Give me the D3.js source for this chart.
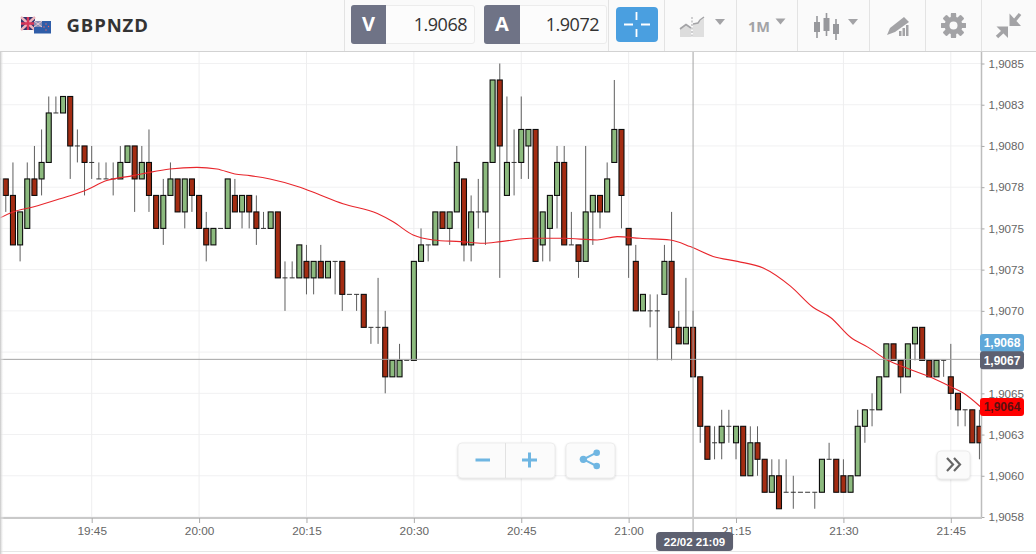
<!DOCTYPE html>
<html><head><meta charset="utf-8">
<script src="https://cdn.jsdelivr.net/npm/d3@7/dist/d3.min.js"></script>
<style>html,body{margin:0;padding:0;background:#fff;overflow:hidden}svg{display:block;font-family:"Liberation Sans",Arial,sans-serif}</style>
</head><body><svg id="c" width="1036" height="554"></svg>
<script>
const symbol = "GBPNZD";
const bidLabel = "V", askLabel = "A", bidValue = "1.9068", askValue = "1.9072", timeframe = "1M";
const crossTimeLabel = "22/02 21:09";
const firstCandle = Date.UTC(2021,1,22,19,32);
const opens = [1.9078,1.9078,1.9077,1.9074,1.9075,1.9078,1.9078,1.9079,1.9082,1.9082,1.9083,1.9080,1.9080,
1.9079,1.9078,1.9078,1.9078,1.9078,1.9079,1.9080,1.9078,1.9079,1.9077,
1.9075,1.9077,1.9078,1.9076,1.9078,1.9077,1.9075,1.9074,1.9075,1.9075,
1.9077,1.9076,1.9077,1.9076,1.9075,1.9075,1.9076,1.9072,1.9072,1.9072,
1.9073,1.9072,1.9073,1.9072,1.9073,1.9073,1.9071,1.9071,1.9071,1.9069,
1.9069,1.9069,1.9066,1.9066,1.9067,1.9067,1.9073,1.9074,1.9074,1.9076,
1.9075,1.9076,1.9078,1.9074,1.9076,1.9076,1.9079,1.9084,1.9077,1.9079,
1.9079,1.9080,1.9081,1.9074,1.9075,1.9077,1.9079,1.9074,1.9074,1.9073,
1.9076,1.9077,1.9076,1.9079,1.9081,1.9075,1.9073,1.9070,1.9070,1.9070,
1.9071,1.9073,1.9069,1.9068,1.9069,1.9066,1.9063,1.9062,1.9062,1.9063,
1.9062,1.9063,1.9060,1.9062,1.9061,1.9059,1.9060,1.9059,1.9059,1.9059,
1.9059,1.9059,1.9059,1.9061,1.9061,1.9060,1.9059,1.9060,1.9063,1.9064,
1.9064,1.9066,1.9068,1.9067,1.9066,1.9068,1.9069,1.9067,1.9066,1.9067,
1.9066,1.9065,1.9064,1.9064,1.9063];
const highs = [1.9078,1.9078,1.9079,1.9076,1.9079,1.9080,1.9081,1.9083,1.9083,1.9083,1.9083,1.9081,1.9080,
1.9080,1.9079,1.9079,1.9079,1.9080,1.9080,1.9080,1.9080,1.9081,1.9077,
1.9078,1.9079,1.9078,1.9078,1.9078,1.9077,1.9076,1.9075,1.9075,1.9078,
1.9078,1.9077,1.9077,1.9077,1.9076,1.9076,1.9076,1.9073,1.9073,1.9074,
1.9074,1.9073,1.9074,1.9073,1.9073,1.9073,1.9071,1.9071,1.9071,1.9069,
1.9072,1.9070,1.9067,1.9068,1.9067,1.9073,1.9075,1.9074,1.9076,1.9076,
1.9076,1.9080,1.9078,1.9077,1.9078,1.9079,1.9084,1.9085,1.9083,1.9081,
1.9083,1.9081,1.9081,1.9076,1.9077,1.9080,1.9080,1.9076,1.9074,1.9080,
1.9077,1.9077,1.9079,1.9084,1.9081,1.9075,1.9074,1.9071,1.9071,1.9071,
1.9074,1.9076,1.9070,1.9072,1.9070,1.9066,1.9063,1.9063,1.9064,1.9064,
1.9063,1.9063,1.9063,1.9063,1.9061,1.9061,1.9061,1.9061,1.9060,1.9059,
1.9059,1.9059,1.9061,1.9062,1.9061,1.9061,1.9060,1.9064,1.9064,1.9065,
1.9066,1.9068,1.9068,1.9067,1.9068,1.9069,1.9069,1.9067,1.9067,1.9067,
1.9068,1.9065,1.9064,1.9064,1.9064];
const lows = [1.9078,1.9076,1.9074,1.9073,1.9075,1.9077,1.9077,1.9079,1.9082,1.9082,1.9078,1.9079,1.9077,
1.9078,1.9078,1.9078,1.9077,1.9078,1.9079,1.9076,1.9078,1.9076,1.9075,
1.9074,1.9077,1.9076,1.9075,1.9076,1.9075,1.9073,1.9074,1.9075,1.9075,
1.9076,1.9075,1.9075,1.9074,1.9075,1.9075,1.9072,1.9070,1.9072,1.9072,
1.9071,1.9071,1.9072,1.9072,1.9071,1.9070,1.9071,1.9070,1.9069,1.9068,
1.9068,1.9065,1.9066,1.9066,1.9067,1.9067,1.9073,1.9073,1.9074,1.9075,
1.9074,1.9076,1.9073,1.9073,1.9075,1.9074,1.9079,1.9072,1.9077,1.9077,
1.9078,1.9078,1.9073,1.9073,1.9073,1.9075,1.9074,1.9074,1.9072,1.9073,
1.9074,1.9075,1.9076,1.9079,1.9075,1.9072,1.9070,1.9070,1.9069,1.9067,
1.9071,1.9067,1.9068,1.9068,1.9066,1.9062,1.9061,1.9061,1.9061,1.9062,
1.9061,1.9060,1.9060,1.9060,1.9059,1.9059,1.9058,1.9059,1.9058,1.9059,
1.9059,1.9058,1.9059,1.9061,1.9059,1.9059,1.9059,1.9060,1.9062,1.9063,
1.9064,1.9066,1.9067,1.9065,1.9066,1.9067,1.9067,1.9066,1.9066,1.9066,
1.9064,1.9063,1.9063,1.9062,1.9061];
const closes = [1.9078,1.9077,1.9074,1.9076,1.9078,1.9077,1.9079,1.9082,1.9082,1.9083,1.9080,1.9080,1.9079,
1.9079,1.9078,1.9078,1.9078,1.9079,1.9080,1.9078,1.9079,1.9077,1.9075,
1.9077,1.9078,1.9076,1.9078,1.9077,1.9075,1.9074,1.9075,1.9075,1.9078,
1.9076,1.9077,1.9076,1.9075,1.9075,1.9076,1.9072,1.9072,1.9072,1.9074,
1.9072,1.9073,1.9072,1.9073,1.9073,1.9071,1.9071,1.9071,1.9069,1.9069,
1.9069,1.9066,1.9067,1.9067,1.9067,1.9073,1.9074,1.9074,1.9076,1.9075,
1.9076,1.9079,1.9074,1.9076,1.9076,1.9079,1.9084,1.9080,1.9079,1.9079,
1.9081,1.9081,1.9073,1.9076,1.9077,1.9079,1.9074,1.9074,1.9073,1.9076,
1.9077,1.9076,1.9078,1.9081,1.9077,1.9074,1.9070,1.9071,1.9070,1.9070,
1.9073,1.9069,1.9068,1.9069,1.9066,1.9063,1.9061,1.9062,1.9063,1.9063,
1.9063,1.9060,1.9062,1.9061,1.9059,1.9060,1.9058,1.9059,1.9059,1.9059,
1.9059,1.9059,1.9061,1.9061,1.9059,1.9059,1.9060,1.9063,1.9064,1.9064,
1.9066,1.9068,1.9067,1.9066,1.9068,1.9069,1.9067,1.9066,1.9067,1.9067,
1.9065,1.9064,1.9064,1.9062,1.9062];
// moving average: minutes after 19:45, and value
const maMinutes = [-13,-11,-8.2,-4.4,-0.9,2.1,5.8,8.1,10.9,14.7,17.5,20,22.1,24.9,29.1,31.5,35.1,39.9,42.1,44.9,47.7,51.5,54.7,57.1,61.3,65.9,70.6,73.4,76.6,80.8,83.6,86.8,90.2,93.8,97.6,100.8,103.2,106,108.4,111.2,114,117.6,120,121.8,124.1];
const maValues = [1.90756,1.90760,1.90763,1.90768,1.90773,1.90779,1.90782,1.90784,1.90786,1.90787,1.90786,1.90783,1.90782,1.90780,1.90775,1.90771,1.90765,1.90759,1.90754,1.90746,1.90743,1.90742,1.90741,1.90742,1.90744,1.90744,1.90743,1.90745,1.90744,1.90743,1.90739,1.90733,1.90730,1.90726,1.90715,1.90702,1.90696,1.90684,1.90678,1.90670,1.90665,1.90659,1.90654,1.90650,1.90642];
const yTickValues = [1.9085,1.90825,1.908,1.90775,1.9075,1.90725,1.907,1.90675,1.9065,1.90625,1.906,1.90575];
const yTickLabels = ["1,9085","1,9083","1,9080","1,9078","1,9075","1,9073","1,9070","","1,9065","1,9063","1,9060","1,9058"];
const xTickTimes = ["19:45","20:00","20:15","20:30","20:45","21:00","21:15","21:30","21:45"];
const crossPrice = 1.906706, crossMinute = 84;
const priceTags = [
 {label:"1,9068", price:1.906805, fill:"#5fa8d9", text:"#ffffff"},
 {label:"1,9067", price:1.90670, fill:"#5d6070", text:"#ffffff"},
 {label:"1,9064", price:1.906417, fill:"#ff0000", text:"#5a1010"}];

const svg = d3.select("#c");
const base = Date.UTC(2021,1,22,19,45);
const toDate = m => new Date(base + m*60000);
const x = d3.scaleTime().domain([toDate(0), toDate(120)]).range([91.7, 950.8]);
const y = d3.scaleLinear().domain([1.9085, 1.90575]).range([63.5, 517]);
const plotR = 981, plotT = 52, plotB = 518;

svg.append("defs").append("clipPath").attr("id","plot").append("rect")
  .attr("x",0).attr("y",plotT).attr("width",plotR).attr("height",plotB-plotT);

// gridlines
const grid = svg.append("g");
grid.selectAll(".gh").data(yTickValues).join("line")
  .attr("x1",0).attr("x2",plotR).attr("y1",d=>y(d)).attr("y2",d=>y(d)).attr("stroke","#f1f1f2");
const xTicks = xTickTimes.map((_, i) => toDate(i*15));
grid.selectAll(".gv").data(xTicks).join("line")
  .attr("y1",plotT).attr("y2",plotB).attr("x1",d=>x(d)).attr("x2",d=>x(d)).attr("stroke","#eeeeef");

// candles
const candles = opens.map((o,i)=>({t:new Date(firstCandle+i*60000),o,h:highs[i],l:lows[i],c:closes[i]}));
const plot = svg.append("g").attr("clip-path","url(#plot)");
const bw = 5;
plot.selectAll(".wick").data(candles).join("line")
  .attr("x1",d=>x(d.t)).attr("x2",d=>x(d.t)).attr("y1",d=>y(d.h)).attr("y2",d=>y(d.l))
  .attr("stroke","#5f5f5f").attr("stroke-width",1);
plot.selectAll(".doji").data(candles.filter(d=>d.o===d.c)).join("line")
  .attr("x1",d=>x(d.t)-bw/2).attr("x2",d=>x(d.t)+bw/2).attr("y1",d=>y(d.o)).attr("y2",d=>y(d.o))
  .attr("stroke","#333").attr("stroke-width",1);
plot.selectAll(".body").data(candles.filter(d=>d.o!==d.c)).join("rect")
  .attr("x",d=>x(d.t)-bw/2).attr("width",bw)
  .attr("y",d=>y(Math.max(d.o,d.c))).attr("height",d=>Math.abs(y(d.o)-y(d.c)))
  .attr("fill",d=>d.c>d.o?"#8cba7e":"#a32c12").attr("stroke","#0c0c0c").attr("stroke-width",1.1);

// moving average
const maLine = d3.line().x(d=>x(toDate(d[0]))).y(d=>y(d[1])).curve(d3.curveMonotoneX);
plot.append("path").attr("d",maLine(maMinutes.map((m,i)=>[m,maValues[i]])))
  .attr("fill","none").attr("stroke","#e8262c").attr("stroke-width",1.1);

// crosshair
plot.append("line").attr("x1",0).attr("x2",plotR).attr("y1",y(crossPrice)).attr("y2",y(crossPrice)).attr("stroke","#a3a3a3");
svg.append("line").attr("x1",x(toDate(crossMinute))).attr("x2",x(toDate(crossMinute))).attr("y1",plotT).attr("y2",532).attr("stroke","#a3a3a3");

// axes
const axisR = d3.axisRight(y).tickValues(yTickValues).tickSize(3).tickPadding(4).tickFormat((d,i)=>yTickLabels[i]);
const gy = svg.append("g").attr("transform",`translate(${plotR+.5},0)`).call(axisR);
gy.select(".domain").attr("d",`M0,${plotT}V${plotB}`).attr("stroke","#bdbdbd").attr("stroke-width",1.5);
gy.selectAll(".tick line").attr("stroke","#aaa");
gy.selectAll("text").attr("fill","#666").attr("font-size",11.6).style("font-family","'Liberation Sans'");
const axisB = d3.axisBottom(x).tickValues(xTicks).tickSize(5).tickPadding(4).tickFormat((d,i)=>xTickTimes[i]);
const gx = svg.append("g").attr("transform",`translate(0,${plotB})`).call(axisB);
gx.select(".domain").attr("d",`M0,0H${plotR+1}`).attr("stroke","#c9c9c9").attr("stroke-width",2.2);
gx.selectAll(".tick line").attr("stroke","#aaa");
gx.selectAll("text").attr("fill","#666").attr("font-size",11.8).style("font-family","'Liberation Sans'");

// bottom line, left shadow
svg.append("line").attr("x1",0).attr("x2",1036).attr("y1",551.5).attr("y2",551.5).attr("stroke","#e6e6e6");
const lg = svg.select("defs").append("linearGradient").attr("id","ls");
lg.append("stop").attr("offset",0).attr("stop-color","#c4c4c4");
lg.append("stop").attr("offset",1).attr("stop-color","#ffffff").attr("stop-opacity",0);
svg.append("rect").attr("x",0).attr("y",0).attr("width",4).attr("height",554).attr("fill","url(#ls)");

// price tags
priceTags.forEach(t=>{
  const cy = y(t.price);
  svg.append("rect").attr("x",980).attr("y",cy-9).attr("width",44).attr("height",18).attr("rx",3).attr("fill",t.fill);
  svg.append("text").attr("x",1002).attr("y",cy+4.3).attr("text-anchor","middle").attr("font-size",12).attr("font-weight","bold").attr("fill",t.text).text(t.label);
});

// crosshair time tag
const cx = x(toDate(crossMinute));
svg.append("rect").attr("x",cx-37).attr("y",532).attr("width",77).attr("height",19).attr("rx",4).attr("fill","#5d6070");
svg.append("text").attr("x",cx+1.5).attr("y",545.5).attr("text-anchor","middle").attr("font-size",11.5).attr("font-weight","bold").attr("fill","#fff").text(crossTimeLabel);

// header
const h = svg.append("g");
h.append("rect").attr("x",0).attr("y",0).attr("width",1036).attr("height",51.5).attr("fill","#fafafa");
h.append("line").attr("x1",0).attr("x2",1036).attr("y1",51.5).attr("y2",51.5).attr("stroke","#d2d2d2");
[344.5,608.5,664.5,736.5,797.5,869.5,925.5,981.5].forEach(v=>h.append("line").attr("x1",v).attr("x2",v).attr("y1",0).attr("y2",51).attr("stroke","#e3e3e3"));
// flags
h.append("rect").attr("x",21).attr("y",17).attr("width",14).attr("height",13).attr("fill","#31356e");
h.append("path").attr("d","M21,17L35,30M35,17L21,30").attr("stroke","#eeb5bd").attr("stroke-width",2.4);
h.append("path").attr("d","M28,17V30M21,23.5H35").attr("stroke","#d9385a").attr("stroke-width",2.4);
h.append("rect").attr("x",34).attr("y",21).attr("width",17).attr("height",12.5).attr("fill","#2f5da8");
h.append("rect").attr("x",34).attr("y",21).attr("width",8).attr("height",6).attr("fill","#8a8fb5");
h.append("path").attr("d","M34,21L42,27M42,21L34,27").attr("stroke","#e8c8d0").attr("stroke-width",1);
[[46,24],[48.5,26.5],[46,30],[44,27]].forEach(p=>h.append("circle").attr("cx",p[0]).attr("cy",p[1]).attr("r",.7).attr("fill","#e66"));
h.append("text").attr("x",66.5).attr("y",31.5).attr("font-family","'Open Sans'").attr("font-size",18.5).attr("font-weight",700).attr("fill","#333").attr("letter-spacing",.9).text(symbol);
// V / A boxes
[[351,386,475,bidLabel,bidValue],[484,520,607,askLabel,askValue]].forEach(b=>{
  h.append("rect").attr("x",b[0]+.5).attr("y",5.5).attr("width",b[2]-b[0]-1).attr("height",38).attr("rx",2.5).attr("fill","#fcfcfc").attr("stroke","#ececec");
  h.append("path").attr("d",`M${b[1]},5H${b[0]+3}Q${b[0]},5 ${b[0]},8V41Q${b[0]},44 ${b[0]+3},44H${b[1]}Z`).attr("fill","#6f7386");
  h.append("text").attr("x",(b[0]+b[1])/2).attr("y",31).attr("text-anchor","middle").attr("font-family","'Open Sans'").attr("font-size",20).attr("font-weight",700).attr("fill","#fff").text(b[3]);
  h.append("text").attr("x",b[2]-8).attr("y",31).attr("text-anchor","end").attr("font-family","'Open Sans'").attr("letter-spacing",-.5).attr("font-size",18).attr("fill","#333").text(b[4]);
});
// crosshair button
h.append("rect").attr("x",616).attr("y",7).attr("width",42).attr("height",35).attr("rx",4).attr("fill","#4a9fe0");
h.append("path").attr("d","M624,24.5H633M641,24.5H650M636.5,12V20M636.5,29V37").attr("stroke","#fff").attr("stroke-width",1.8);
const ic = "#a3a3a6";
const tri = (cx,cy)=>h.append("path").attr("d",`M${cx-5},${cy-3}H${cx+5}L${cx},${cy+3}Z`).attr("fill",ic);
// chart type icon
h.append("path").attr("d","M680,37V28L686,24L691,28V37Z").attr("fill","#dcdcdc");
h.append("path").attr("d","M680,29L686,24.5L691,28").attr("fill","none").attr("stroke",ic).attr("stroke-width",1.6);
h.append("path").attr("d","M693,37V24L699,22L704,18V37Z").attr("fill","#dfdfdf");
h.append("path").attr("d","M693,24L698,23L700,20L704,17").attr("fill","none").attr("stroke",ic).attr("stroke-width",1.4);
h.append("line").attr("x1",692).attr("x2",692).attr("y1",17).attr("y2",38).attr("stroke",ic).attr("stroke-dasharray","2,1.5");
tri(720,22);
h.append("text").attr("x",748).attr("y",31.5).attr("font-family","'Open Sans'").attr("font-size",14.5).attr("font-weight",700).attr("fill",ic).text(timeframe);
tri(780.5,21.5);
// candle icon
[[817,16,38,22,32],[826.5,13,36,18,31],[836,19,40,24,34]].forEach(c=>{
  h.append("line").attr("x1",c[0]).attr("x2",c[0]).attr("y1",c[1]).attr("y2",c[2]).attr("stroke","#97989c").attr("stroke-width",1.6);
  h.append("rect").attr("x",c[0]-3).attr("y",c[3]).attr("width",6).attr("height",c[4]-c[3]).attr("fill","#97989c");
});
tri(853,22);
// pen icon with bars
h.append("path").attr("d","M887,35L890,28L904,17L909,22L895,32Z").attr("fill",ic);
[[899,31,2.5],[902.5,28,2.5],[906,25,2.5]].forEach(b=>h.append("rect").attr("x",b[0]).attr("y",b[1]).attr("width",b[2]).attr("height",36-b[1]).attr("fill",ic));
// gear
const gear = h.append("g").attr("transform","translate(953.5,25.5)");
d3.range(8).forEach(i=>gear.append("rect").attr("x",-2.6).attr("y",-12.5).attr("width",5.2).attr("height",25).attr("rx",1).attr("fill",ic).attr("transform",`rotate(${i*45})`));
gear.append("circle").attr("r",9).attr("fill",ic);
gear.append("circle").attr("r",4).attr("fill","#fafafa");
// compress icon
h.append("path").attr("d","M1009.5,13.5V26H1021Z").attr("fill",ic);
h.append("path").attr("d","M1013,22.5L1020,14").attr("stroke",ic).attr("stroke-width",3.4).attr("fill","none");
h.append("path").attr("d","M996.5,26.5H1008V38Z").attr("fill",ic);
h.append("path").attr("d","M1004,30.5L997,37").attr("stroke",ic).attr("stroke-width",3.4).attr("fill","none");

// zoom buttons
const btn = (x0,y0,w,ht)=>svg.append("rect").attr("x",x0).attr("y",y0).attr("width",w).attr("height",ht).attr("rx",4).attr("fill","#fbfbfb").attr("stroke","#ededed").style("filter","drop-shadow(0 1px 1px rgba(0,0,0,.14))");
btn(458,443,97,35);
svg.append("line").attr("x1",505.5).attr("x2",505.5).attr("y1",443).attr("y2",478).attr("stroke","#e2e2e2");
svg.append("path").attr("d","M475.5,460H490M522,460H537M529.5,452.5V467.5").attr("stroke","#6fb6e2").attr("stroke-width",3).attr("fill","none");
btn(566,443,49,35);
svg.append("path").attr("d","M596.5,452.7L583.5,459.3L596.5,466").attr("stroke","#6fb6e2").attr("stroke-width",2).attr("fill","none");
[[596.7,452.7,3.3],[583.3,459.3,3.6],[596.7,466,3.3]].forEach(c=>svg.append("circle").attr("cx",c[0]).attr("cy",c[1]).attr("r",c[2]).attr("fill","#6fb6e2"));
btn(937,451,33,28);
svg.append("path").attr("d","M947,458L953,464.5L947,471M954,458L960,464.5L954,471").attr("stroke","#666").attr("stroke-width",2.2).attr("fill","none");
</script>
</body></html>
